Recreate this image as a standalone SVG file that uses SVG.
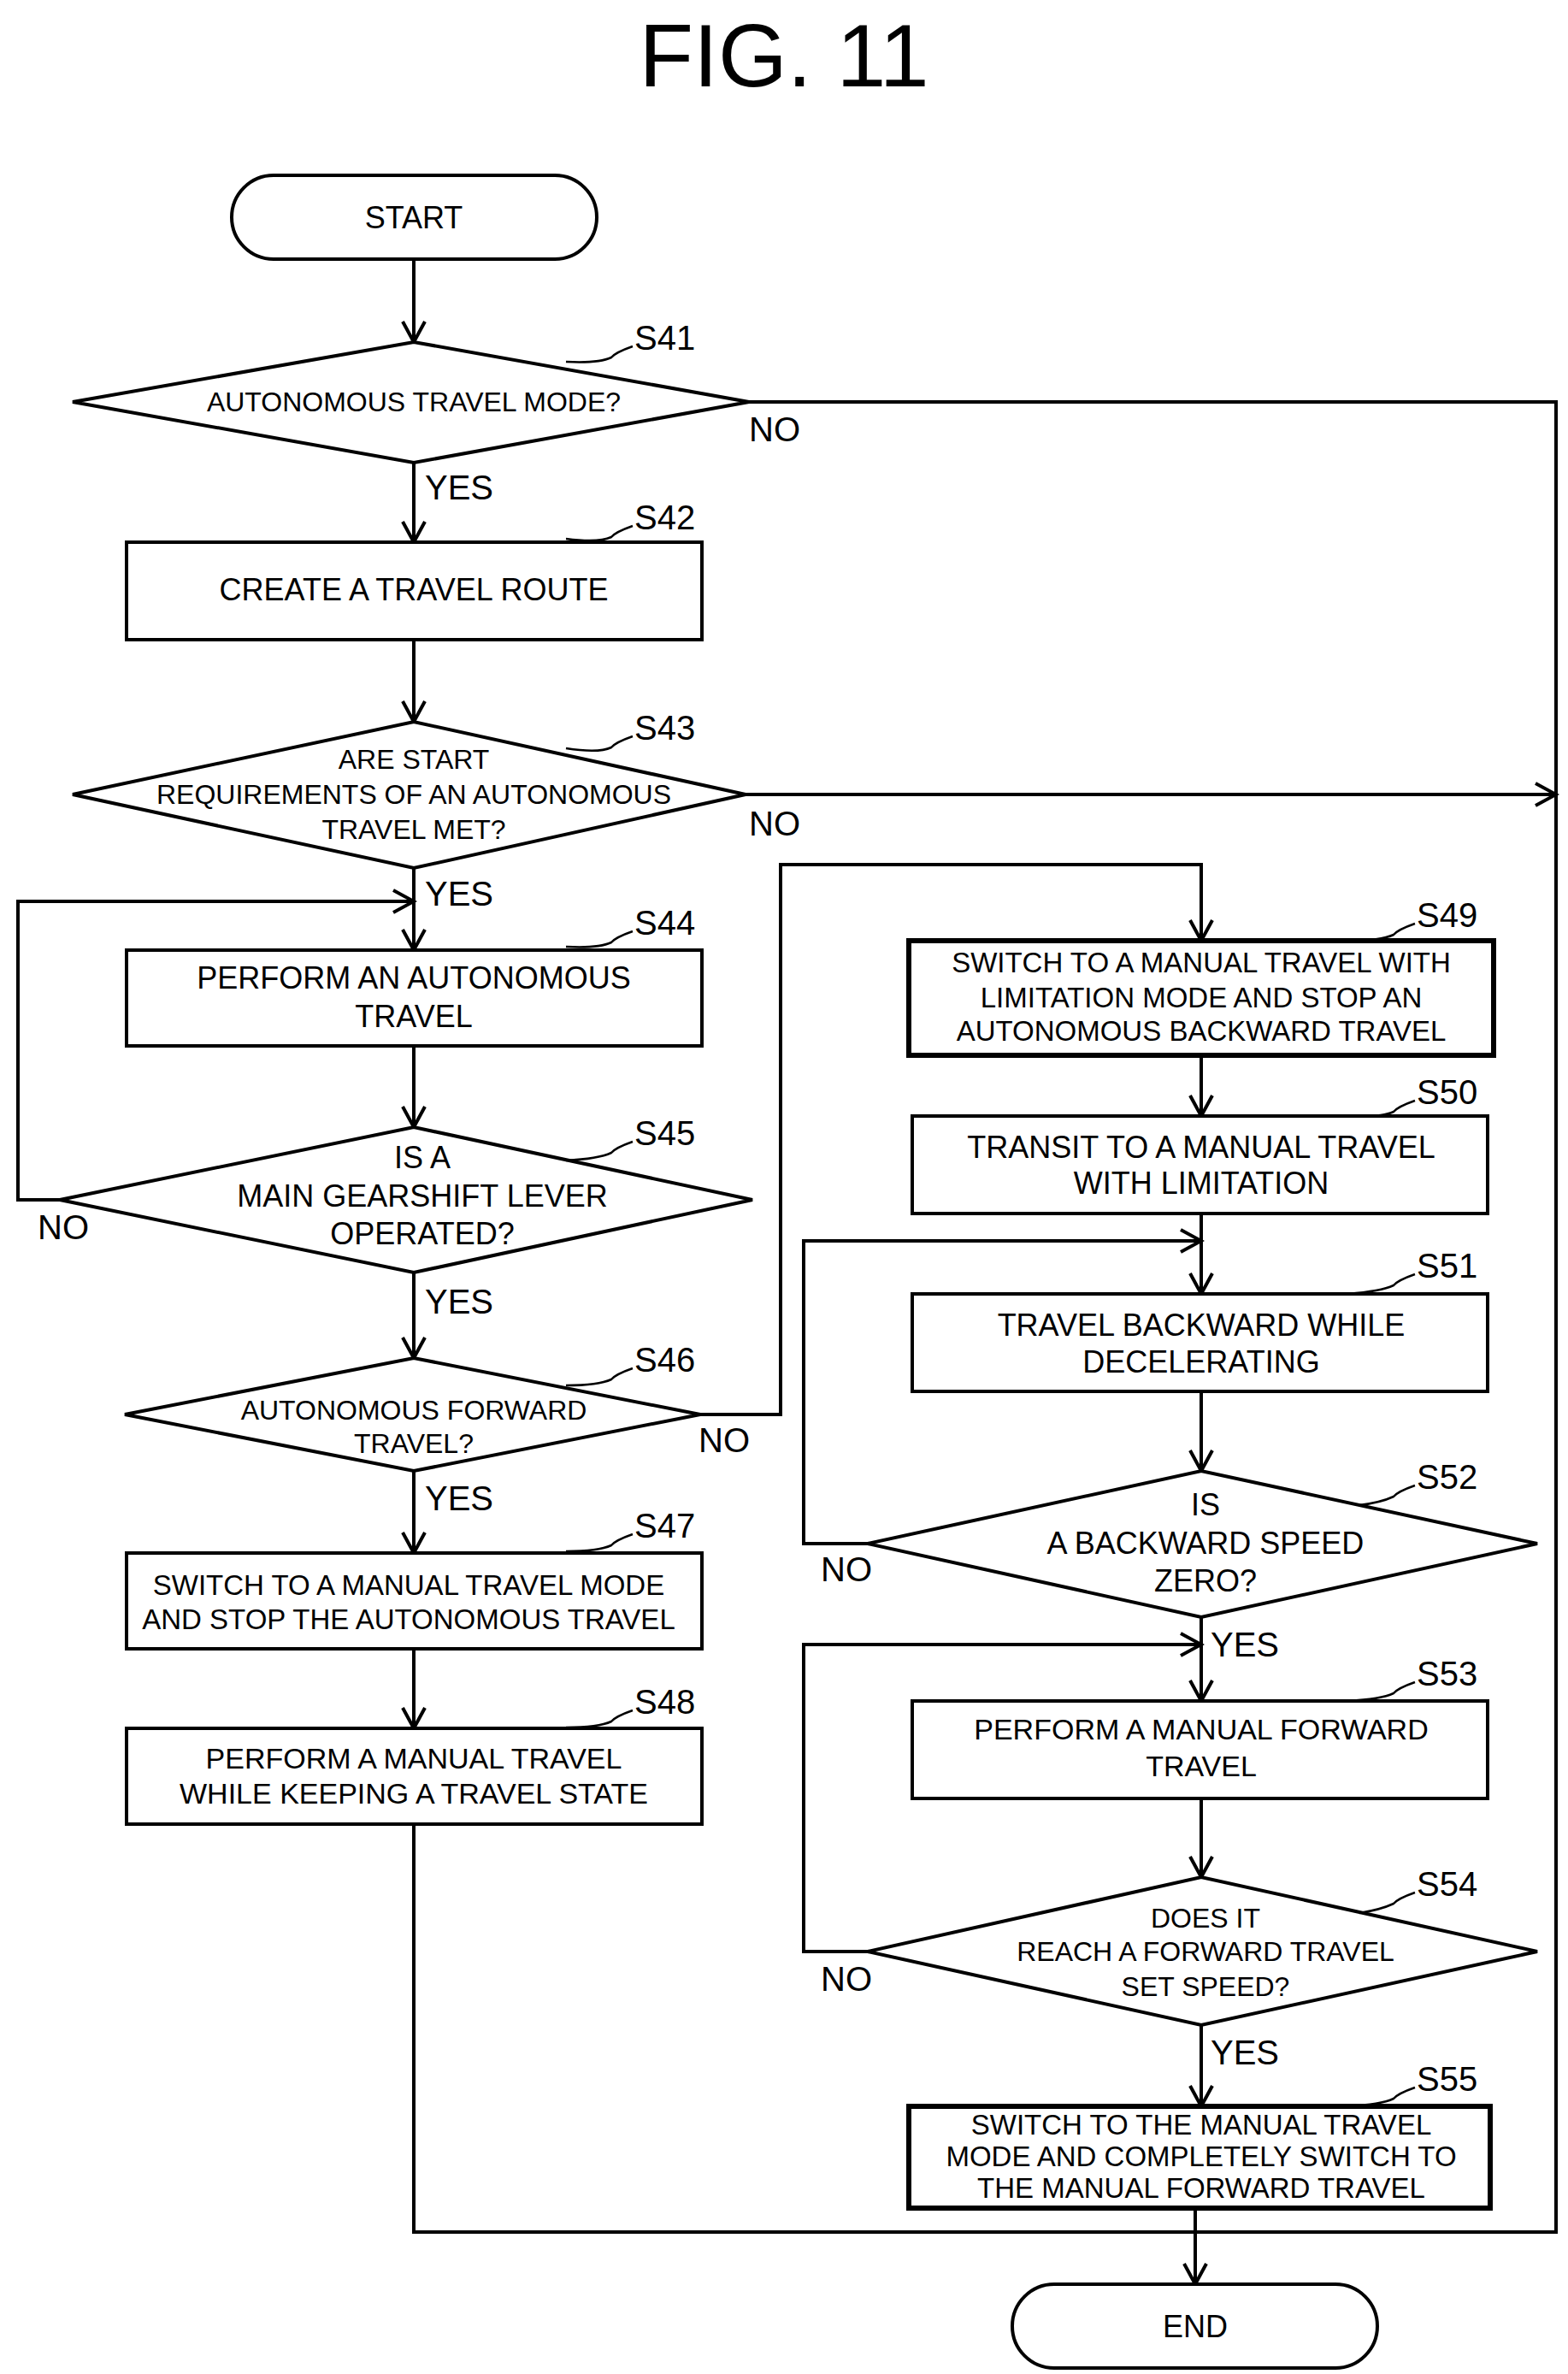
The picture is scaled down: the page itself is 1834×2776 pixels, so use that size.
<svg xmlns="http://www.w3.org/2000/svg" width="1834" height="2776" viewBox="0 0 1834 2776">
<style>
.s{fill:#fff;stroke:#000;stroke-width:4}
.t{stroke-width:6}
text{font-family:"Liberation Sans",Arial,sans-serif;font-size:36px;text-anchor:middle;dominant-baseline:central;fill:#000}
.d{font-size:32px}
.l{font-size:40px;text-anchor:start}
.c path{fill:none;stroke:#000;stroke-width:4}
.ld{fill:none;stroke:#000;stroke-width:2.5}
</style>
<defs><marker id="a" markerWidth="12" markerHeight="12" refX="10" refY="6" orient="auto" markerUnits="userSpaceOnUse" viewBox="0 0 12 12"><path d="M0,0 L10,6 L0,12" fill="none" stroke="#000" stroke-width="3"/></marker>
<marker id="b" markerWidth="30" markerHeight="30" refX="26" refY="15" orient="auto" markerUnits="userSpaceOnUse" viewBox="0 0 30 30"><path d="M2,2 L26,15 L2,28" fill="none" stroke="#000" stroke-width="4"/></marker></defs>
<text x="917" y="65" style="font-size:104px">FIG. 11</text>
<g class="c">
<path d="M484,303 V400" marker-end="url(#b)"/>
<path d="M484,541 V634" marker-end="url(#b)"/>
<path d="M484,748 V844" marker-end="url(#b)"/>
<path d="M484,1015 V1111" marker-end="url(#b)"/>
<path d="M484,1223 V1318" marker-end="url(#b)"/>
<path d="M484,1488 V1588" marker-end="url(#b)"/>
<path d="M484,1720 V1816" marker-end="url(#b)"/>
<path d="M484,1928 V2021" marker-end="url(#b)"/>
<path d="M876,470 H1820 V2610 H484 V2133"/>
<path d="M872,929 H1820" marker-end="url(#b)"/>
<path d="M85,1403 H21 V1054 H484" marker-end="url(#b)"/>
<path d="M819,1654 H913 V1011 H1405 V1100" marker-end="url(#b)"/>
<path d="M1405,1234 V1305" marker-end="url(#b)"/>
<path d="M1405,1419 V1513" marker-end="url(#b)"/>
<path d="M1405,1627 V1720" marker-end="url(#b)"/>
<path d="M1015,1805 H940 V1451 H1405" marker-end="url(#b)"/>
<path d="M1405,1891 V1989" marker-end="url(#b)"/>
<path d="M1015,2282 H940 V1923 H1405" marker-end="url(#b)"/>
<path d="M1405,2103 V2195" marker-end="url(#b)"/>
<path d="M1405,2368 V2463" marker-end="url(#b)"/>
<path d="M1398,2582 V2671" marker-end="url(#b)"/>
</g>
<g id="start"><rect class="s" x="271" y="205" width="427" height="98" rx="49"/><text x="484" y="254">START</text></g>
<g id="S41"><polygon class="s" points="85,470 484,400 876,470 484,541"/><text class="d" x="484" y="470">AUTONOMOUS TRAVEL MODE?</text></g>
<g id="S42"><rect class="s" x="148" y="634" width="673" height="114"/><text x="484" y="689">CREATE A TRAVEL ROUTE</text></g>
<g id="S43"><polygon class="s" points="85,929 484,844 872,929 484,1015"/><text class="d" x="484" y="888">ARE START</text><text class="d" x="484" y="929">REQUIREMENTS OF AN AUTONOMOUS</text><text class="d" x="484" y="970">TRAVEL MET?</text></g>
<g id="S44"><rect class="s" x="148" y="1111" width="673" height="112"/><text x="484" y="1143">PERFORM AN AUTONOMOUS</text><text x="484" y="1188">TRAVEL</text></g>
<g id="S45"><polygon class="s" points="70,1403 484,1318 880,1403 484,1488"/><text x="494" y="1353">IS A</text><text x="494" y="1398">MAIN GEARSHIFT LEVER</text><text x="494" y="1442">OPERATED?</text></g>
<g id="S46"><polygon class="s" points="146,1654 484,1588 819,1654 484,1720"/><text class="d" x="484" y="1649">AUTONOMOUS FORWARD</text><text class="d" x="484" y="1688">TRAVEL?</text></g>
<g id="S47"><rect class="s" x="148" y="1816" width="673" height="112"/><text x="478" y="1853" style="font-size:33px">SWITCH TO A MANUAL TRAVEL MODE</text><text x="478" y="1893" style="font-size:33px">AND STOP THE AUTONOMOUS TRAVEL</text></g>
<g id="S48"><rect class="s" x="148" y="2021" width="673" height="112"/><text x="484" y="2056" style="font-size:34px">PERFORM A MANUAL TRAVEL</text><text x="484" y="2097" style="font-size:34px">WHILE KEEPING A TRAVEL STATE</text></g>
<g id="S49"><rect class="s t" x="1063" y="1100" width="684" height="134"/><text x="1405" y="1125" style="font-size:33px">SWITCH TO A MANUAL TRAVEL WITH</text><text x="1405" y="1166" style="font-size:33px">LIMITATION MODE AND STOP AN</text><text x="1405" y="1205" style="font-size:33px">AUTONOMOUS BACKWARD TRAVEL</text></g>
<g id="S50"><rect class="s" x="1067" y="1305" width="673" height="114"/><text x="1405" y="1341">TRANSIT TO A MANUAL TRAVEL</text><text x="1405" y="1383">WITH LIMITATION</text></g>
<g id="S51"><rect class="s" x="1067" y="1513" width="673" height="114"/><text x="1405" y="1549">TRAVEL BACKWARD WHILE</text><text x="1405" y="1592">DECELERATING</text></g>
<g id="S52"><polygon class="s" points="1015,1805 1405,1720 1798,1805 1405,1891"/><text x="1410" y="1759">IS</text><text x="1410" y="1804">A BACKWARD SPEED</text><text x="1410" y="1848">ZERO?</text></g>
<g id="S53"><rect class="s" x="1067" y="1989" width="673" height="114"/><text x="1405" y="2022" style="font-size:34px">PERFORM A MANUAL FORWARD</text><text x="1405" y="2065" style="font-size:34px">TRAVEL</text></g>
<g id="S54"><polygon class="s" points="1015,2282 1405,2195 1798,2282 1405,2368"/><text class="d" x="1410" y="2243">DOES IT</text><text class="d" x="1410" y="2282">REACH A FORWARD TRAVEL</text><text class="d" x="1410" y="2323">SET SPEED?</text></g>
<g id="S55"><rect class="s t" x="1063" y="2463" width="680" height="119"/><text x="1405" y="2484" style="font-size:33px">SWITCH TO THE MANUAL TRAVEL</text><text x="1405" y="2521" style="font-size:33px">MODE AND COMPLETELY SWITCH TO</text><text x="1405" y="2558" style="font-size:33px">THE MANUAL FORWARD TRAVEL</text></g>
<g id="end"><rect class="s" x="1184" y="2671" width="427" height="98" rx="49"/><text x="1398" y="2720">END</text></g>
<g id="labels">
<text class="l" x="742" y="395">S41</text><path class="ld" d="M740,405 Q720,412 715,418 Q700,425 662,423"/>
<text class="l" x="742" y="605">S42</text><path class="ld" d="M740,615 Q720,622 715,628 Q700,635 662,630"/>
<text class="l" x="742" y="851">S43</text><path class="ld" d="M740,861 Q720,868 715,874 Q700,881 662,875"/>
<text class="l" x="742" y="1079">S44</text><path class="ld" d="M740,1089 Q720,1096 715,1102 Q700,1109 662,1107"/>
<text class="l" x="742" y="1325">S45</text><path class="ld" d="M740,1335 Q720,1342 715,1348 Q700,1355 662,1357"/>
<text class="l" x="742" y="1590">S46</text><path class="ld" d="M740,1600 Q720,1607 715,1613 Q700,1620 662,1620"/>
<text class="l" x="742" y="1784">S47</text><path class="ld" d="M740,1794 Q720,1801 715,1807 Q700,1814 662,1814"/>
<text class="l" x="742" y="1990">S48</text><path class="ld" d="M740,2000 Q720,2007 715,2013 Q700,2020 662,2020"/>
<text class="l" x="1657" y="1070">S49</text><path class="ld" d="M1655,1080 Q1635,1087 1630,1093 Q1615,1100 1577,1100"/>
<text class="l" x="1657" y="1277">S50</text><path class="ld" d="M1655,1287 Q1635,1294 1630,1300 Q1615,1307 1577,1305"/>
<text class="l" x="1657" y="1480">S51</text><path class="ld" d="M1655,1490 Q1635,1497 1630,1503 Q1615,1510 1577,1513"/>
<text class="l" x="1657" y="1727">S52</text><path class="ld" d="M1655,1737 Q1635,1744 1630,1750 Q1615,1757 1590,1760"/>
<text class="l" x="1657" y="1957">S53</text><path class="ld" d="M1655,1967 Q1635,1974 1630,1980 Q1615,1987 1577,1989"/>
<text class="l" x="1657" y="2203">S54</text><path class="ld" d="M1655,2213 Q1635,2220 1630,2226 Q1615,2233 1590,2237"/>
<text class="l" x="1657" y="2431">S55</text><path class="ld" d="M1655,2441 Q1635,2448 1630,2454 Q1615,2461 1577,2463"/>
<text class="l" x="497" y="570">YES</text><text class="l" x="497" y="1045">YES</text><text class="l" x="497" y="1522">YES</text><text class="l" x="497" y="1752">YES</text><text class="l" x="1416" y="1923">YES</text><text class="l" x="1416" y="2400">YES</text>
<text class="l" x="876" y="502">NO</text><text class="l" x="876" y="963">NO</text><text class="l" x="44" y="1435">NO</text><text class="l" x="817" y="1684">NO</text><text class="l" x="960" y="1835">NO</text><text class="l" x="960" y="2314">NO</text>
</g>
</svg>
